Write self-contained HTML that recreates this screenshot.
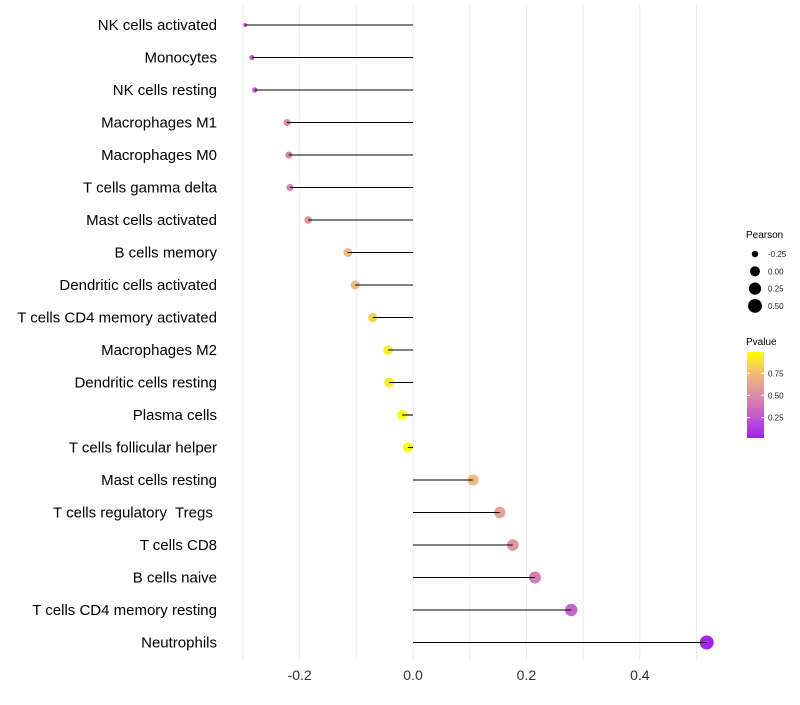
<!DOCTYPE html>
<html><head><meta charset="utf-8"><style>
body{margin:0;background:#fff;}
svg{font-family:"Liberation Sans",sans-serif;}
</style></head><body>
<svg id="chart" width="800" height="700"></svg>
<script>
const categories=["NK cells activated","Monocytes","NK cells resting","Macrophages M1","Macrophages M0","T cells gamma delta","Mast cells activated","B cells memory","Dendritic cells activated","T cells CD4 memory activated","Macrophages M2","Dendritic cells resting","Plasma cells","T cells follicular helper","Mast cells resting","T cells regulatory  Tregs ","T cells CD8","B cells naive","T cells CD4 memory resting","Neutrophils"];
const pearson=[-0.296,-0.284,-0.279,-0.222,-0.219,-0.217,-0.185,-0.115,-0.102,-0.071,-0.044,-0.042,-0.019,-0.009,0.106,0.153,0.176,0.215,0.279,0.518];
const pvalue=[0.22,0.24,0.25,0.45,0.45,0.45,0.55,0.72,0.75,0.85,0.93,0.93,0.99,0.99,0.74,0.62,0.56,0.43,0.3,0.02];
const xTicks=[-0.2,0.0,0.2,0.4];
const xTickLabels=["-0.2","0.0","0.2","0.4"];
const sizeBreaks=[-0.25,0,0.25,0.5];
const sizeLabels=["-0.25","0.00","0.25","0.50"];
const colorBreaks=[0.25,0.5,0.75];
const colorLabels=["0.25","0.50","0.75"];

const NS="http://www.w3.org/2000/svg";
const svg=document.getElementById('chart');
function mk(tag,attrs,parent){const e=document.createElementNS(NS,tag);for(const k in attrs)e.setAttribute(k,attrs[k]);(parent||svg).appendChild(e);return e;}
const x=v=>413+v*567;
const y=i=>25+i*32.5;
const r=v=>2+5*Math.sqrt(Math.max(0,(v+0.296)/0.814));
const stops=[[0,[160,32,240]],[0.25,[196,90,208]],[0.5,[220,141,165]],[0.75,[240,187,120]],[1,[255,255,0]]];
function col(p){for(let i=1;i<stops.length;i++){if(p<=stops[i][0]){const a=stops[i-1],b=stops[i];const t=(p-a[0])/(b[0]-a[0]);return 'rgb('+a[1].map((c,j)=>Math.round(c+(b[1][j]-c)*t)).join(',')+')';}}return 'rgb(255,255,0)';}

for(let v=-0.3;v<=0.51;v+=0.1){const g=mk('line',{x1:x(v),x2:x(v),y1:5,y2:660,stroke:'#ebebeb','stroke-width':1});

}
xTicks.forEach((v,i)=>{const t=mk('text',{x:x(v),y:680,'text-anchor':'middle','font-size':14,fill:'#333'});t.textContent=xTickLabels[i];

});

categories.forEach((c,i)=>{
 const t=mk('text',{x:217,y:y(i)+5,'text-anchor':'end','font-size':15,fill:'#000',style:'white-space:pre'});t.textContent=c;
 
 
 const p=mk('circle',{cx:x(pearson[i]),cy:y(i),r:r(pearson[i]),fill:col(pvalue[i])});
 
 
 const l=mk('line',{x1:x(0),x2:x(pearson[i]),y1:y(i),y2:y(i),stroke:'#000','stroke-width':1.1});
 
 
});

const lt=mk('text',{x:746,y:238,'font-size':10,fill:'#000'});lt.textContent='Pearson';


sizeBreaks.forEach((v,i)=>{const cy=254+i*17.3;
 const c=mk('circle',{cx:755,cy:cy,r:r(v),fill:'#000'});
 
 
 const t=mk('text',{x:768,y:cy+3,'font-size':8,fill:'#222'});t.textContent=sizeLabels[i];
 
 });

const ct=mk('text',{x:746,y:345,'font-size':10,fill:'#000'});ct.textContent='Pvalue';


const defs=mk('defs',{});const gr=mk('linearGradient',{id:'pg',x1:0,y1:1,x2:0,y2:0},defs);
stops.forEach(s=>mk('stop',{offset:s[0],'stop-color':'rgb('+s[1].join(',')+')'},gr));
const bar=mk('rect',{x:747,y:352,width:17,height:86,fill:'url(#pg)'});


const cy=v=>438-(v-0.02)/0.97*86;
colorBreaks.forEach((v,i)=>{
 mk('line',{x1:747,x2:750,y1:cy(v),y2:cy(v),stroke:'#fff'});mk('line',{x1:761,x2:764,y1:cy(v),y2:cy(v),stroke:'#fff'});
 const t=mk('text',{x:768,y:cy(v)+3,'font-size':8,fill:'#222'});t.textContent=colorLabels[i];
 
 });
</script>
</body></html>
